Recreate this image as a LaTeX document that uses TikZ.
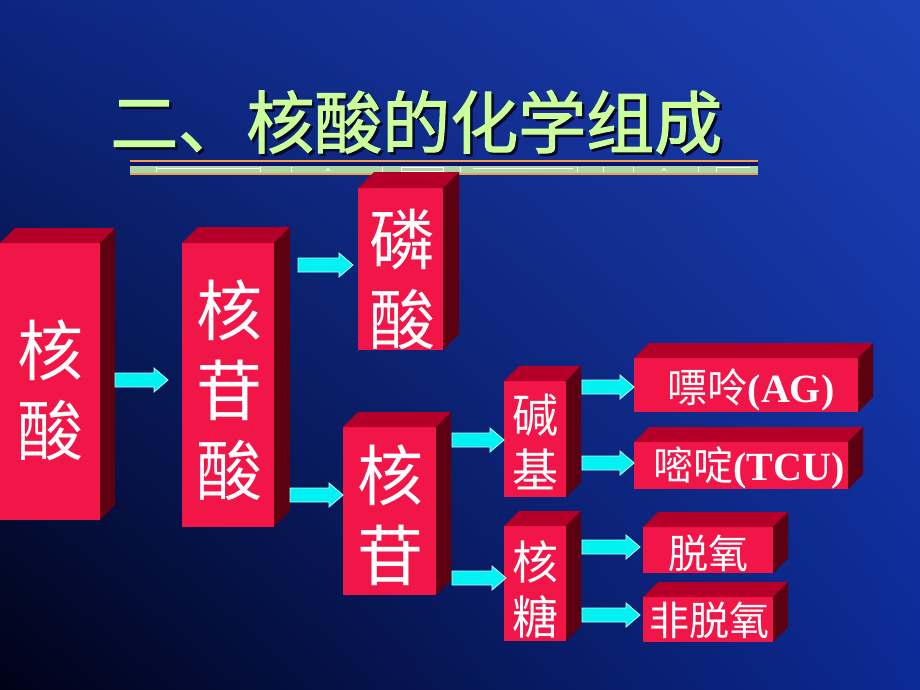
\documentclass[tikz,border=0pt]{standalone}
\usepackage{fontspec}
\setmainfont{Liberation Serif}
\newfontfamily\cjk{Noto Sans CJK SC}
\newfontfamily\cjktitle[FakeBold=1.6]{Noto Sans CJK SC}
\usetikzlibrary{calc,shadings}
\definecolor{bgUL}{RGB}{12,38,128}
\definecolor{bgUR}{RGB}{28,64,182}
\definecolor{bgLL}{RGB}{0,2,22}
\definecolor{bgLR}{RGB}{12,42,150}
\definecolor{frontc}{RGB}{242,22,72}
\definecolor{topc}{RGB}{180,0,40}
\definecolor{sidec}{RGB}{92,0,18}
\definecolor{titlegreen}{RGB}{204,255,153}
\definecolor{titleshadow}{RGB}{4,8,40}
\definecolor{arrcyan}{RGB}{0,242,242}
\definecolor{arrrim}{RGB}{190,255,255}
\definecolor{barorange}{RGB}{236,160,80}
\definecolor{barnavy}{RGB}{16,16,110}
\definecolor{bargreen}{RGB}{170,215,165}
\tikzset{
  frontface/.style={fill=frontc, inner sep=0pt, outer sep=0pt, draw=none},
  bigtxt/.style={text=white, align=center, inner sep=0pt, font=\cjk\fontsize{66}{80}\selectfont},
  midtxt/.style={text=white, align=center, inner sep=0pt, font=\cjk\fontsize{46}{55}\selectfont},
  smalltxt/.style={text=white, inner sep=0pt, font=\cjk\fontsize{40}{48}\selectfont},
  titletxt/.style={anchor=west, inner sep=0pt, font=\cjktitle\fontsize{68}{80}\selectfont},
  cyarrow/.style 2 args={fill=arrcyan, draw=arrrim, line width=0.8pt,
    to path={let \p1=(\tikztostart), \p2=(\tikztotarget) in
      (\x1+#1,\y1-7pt) -- (\x2-#2-14pt,\y1-7pt) -- (\x2-#2-14pt,\y1-12pt) --
      (\x2-#2,\y1) -- (\x2-#2-14pt,\y1+12pt) -- (\x2-#2-14pt,\y1+7pt) --
      (\x1+#1,\y1+7pt) -- cycle}}
}
\newcommand{\cubebox}[6]{% name, x1, y1, x2, y2, depth
  \node[frontface, minimum width={(#4-#2)*1pt}, minimum height={(#5-#3)*1pt}] (#1) at ({(#2+#4)/2},{(#3+#5)/2}) {};
  \fill[topc] (#1.north west) -- ++(#6,-#6) -- ($(#1.north east)+(#6,-#6)$) -- (#1.north east) -- cycle;
  \fill[sidec] (#1.north east) -- ++(#6,-#6) -- ($(#1.south east)+(#6,-#6)$) -- (#1.south east) -- cycle;
}
\begin{document}
\begin{tikzpicture}[x=1pt, y=-1pt]
\useasboundingbox (0,0) rectangle (920,690);
\shade[upper left=bgUL, upper right=bgUR, lower left=bgLL, lower right=bgLR] (0,0) rectangle (920,690);
% title
\node[titletxt, text=titleshadow] (tshadow) at (112.5,124.5) {二、核酸的化学组成};
\node[titletxt, text=titlegreen] (title) at (110,122) {二、核酸的化学组成};
% title bar
\fill[barorange] (130,160) rectangle (758,162);
\fill[barnavy] (130,162) rectangle (758,166);
\fill[bargreen] (130,166) rectangle (758,172.5);
\fill[barorange] (130,172.5) rectangle (758,175);
\begin{scope}[white, line width=0.8pt]
  \draw (156,168.5) -- (260,168.5);
  \draw (401,167.5) rectangle (443,171);
  \draw (473,168.5) -- (573,168.5);
  \draw (716,167.5) -- (750,167.5);
  \foreach \tx in {156,260,291,382,460,577,603,633,698,716}
    \draw (\tx,166.5) -- (\tx,172);
  \foreach \tx in {328,664}
    \draw (\tx-2,171) -- (\tx,168.5) -- (\tx+2,171);
\end{scope}
% boxes
\cubebox{b1}{0}{243}{100}{520}{15}
\cubebox{b2}{182}{243}{274}{527}{16}
\cubebox{b3}{358}{188}{443}{350}{16}
\cubebox{b4}{343}{427}{436}{595}{15}
\cubebox{b5}{504}{381}{566}{497}{15}
\cubebox{b6}{504}{526}{566}{641}{15}
\cubebox{b7}{634}{358}{858}{412}{15}
\cubebox{b8}{634}{442}{848}{489}{15}
\cubebox{b9}{643}{527}{773}{573}{15}
\cubebox{b10}{643}{597}{773}{642}{15}
% texts
\node[bigtxt] (t1) at (50,390) {核\\酸};
\node[bigtxt] (t2) at (229,390) {核\\苷\\酸};
\node[bigtxt] (t3) at (402,279) {磷\\酸};
\node[bigtxt] (t4) at (390,515) {核\\苷};
\node[midtxt] (t5) at (535,442) {碱\\基};
\node[midtxt] (t6) at (535,589) {核\\糖};
\node[smalltxt] (t7) at (751,390) {嘌呤{\rmfamily\bfseries (AG)}};
\node[smalltxt] (t8) at (749,468) {嘧啶{\rmfamily\bfseries (TCU)}};
\node[smalltxt] (t9) at (708,553) {脱氧};
\node[smalltxt] (t10) at (709,620) {非脱氧};
% arrows
\draw[cyarrow={15pt}{14pt}] (b1.east |- 0,380) to (b2.west |- 0,380);
\draw[cyarrow={24pt}{5pt}] (b2.east |- 0,265) to (b3.west |- 0,265);
\draw[cyarrow={16pt}{0pt}] (b2.east |- 0,495) to (b4.west |- 0,495);
\draw[cyarrow={16pt}{0pt}] (b4.east |- 0,440) to (b5.west |- 0,440);
\draw[cyarrow={16pt}{-2pt}] (b4.east |- 0,578) to (b6.west |- 0,578);
\draw[cyarrow={16pt}{0pt}] (b5.east |- 0,387) to (b7.west |- 0,387);
\draw[cyarrow={16pt}{0pt}] (b5.east |- 0,463) to (b8.west |- 0,463);
\draw[cyarrow={16pt}{3pt}] (b6.east |- 0,547) to (b9.west |- 0,547);
\draw[cyarrow={16pt}{3pt}] (b6.east |- 0,615) to (b10.west |- 0,615);
\end{tikzpicture}
\end{document}
